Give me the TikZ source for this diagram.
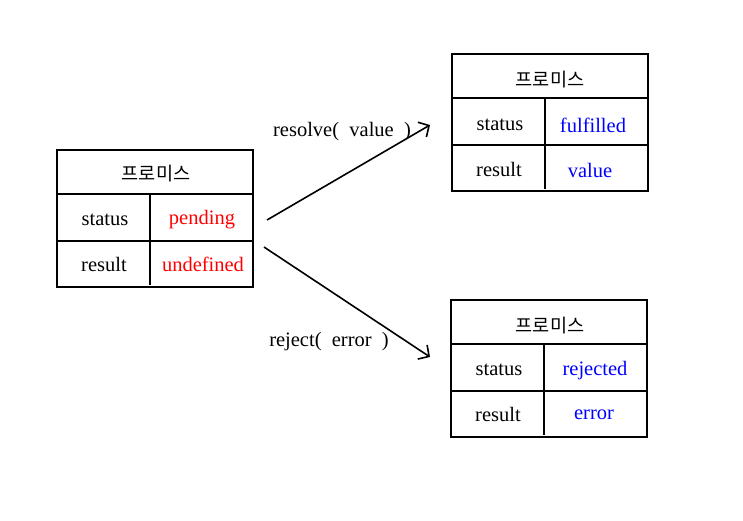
\documentclass[tikz,border=0pt]{standalone}
\usepackage{fontspec}
\setmainfont{Liberation Serif}
\newfontfamily\kofont{Noto Sans CJK KR}
\usetikzlibrary{arrows.meta}
\begin{document}
\begin{tikzpicture}[x=1pt,y=-1pt,
  box/.style={draw,line width=1.6pt,minimum width=196pt,minimum height=137pt,anchor=north west,inner sep=0pt},
  sep/.style={line width=1.6pt},
  txt/.style={font=\fontsize{20.5}{22}\selectfont,inner sep=0pt,yshift=-2pt},
  ko/.style={font=\kofont\fontsize{18.6}{22}\selectfont,inner sep=0pt,yshift=-1.5pt},
  red/.style={text=red},
  blu/.style={text=blue},
  conn/.style={line width=1.6pt,-{Straight Barb[length=8pt,width=17pt,line width=1.6pt]}}]
\useasboundingbox (0,0) rectangle (743,520);
% box 1
\node[box] (b1) at (56,149) {};
\draw[sep] (56,194) -- (253,194) (56,241) -- (253,241) (150,194) -- (150,285);
\node[ko] (b1t) at (156,172) {프로미스};
\node[txt] (b1s) at (105,218) {status};
\node[txt,red] (b1sv) at (202,218) {pending};
\node[txt] (b1r) at (104,262) {result};
\node[txt,red] (b1rv) at (203,262) {undefined};
% box 2
\node[box] (b2) at (451,53) {};
\draw[sep] (451,98) -- (648,98) (451,145) -- (648,145) (545,98) -- (545,189);
\node[ko] (b2t) at (550,78) {프로미스};
\node[txt] (b2s) at (500,123) {status};
\node[txt,blu] (b2sv) at (593,123) {fulfilled};
\node[txt] (b2r) at (499,167) {result};
\node[txt,blu] (b2rv) at (590,168) {value};
% box 3
\node[box] (b3) at (450,299) {};
\draw[sep] (450,344) -- (647,344) (450,391) -- (647,391) (544,344) -- (544,435);
\node[ko] (b3t) at (550,324) {프로미스};
\node[txt] (b3s) at (499,368) {status};
\node[txt,blu] (b3sv) at (595,369) {rejected};
\node[txt] (b3r) at (498,412) {result};
\node[txt,blu] (b3rv) at (594,413) {error};
% connectors
\coordinate (s1) at (267,220);
\coordinate (e1) at (430,125);
\coordinate (s2) at (264,247);
\coordinate (e2) at (430,357);
\draw[conn] (s1) -- (e1);
\draw[conn] (s2) -- (e2);
\node[txt] (l1) at (342,130) {resolve(\ \ value\ \ )};
\node[txt] (l2) at (329,340) {reject(\ \ error\ \ )};
\end{tikzpicture}
\end{document}
